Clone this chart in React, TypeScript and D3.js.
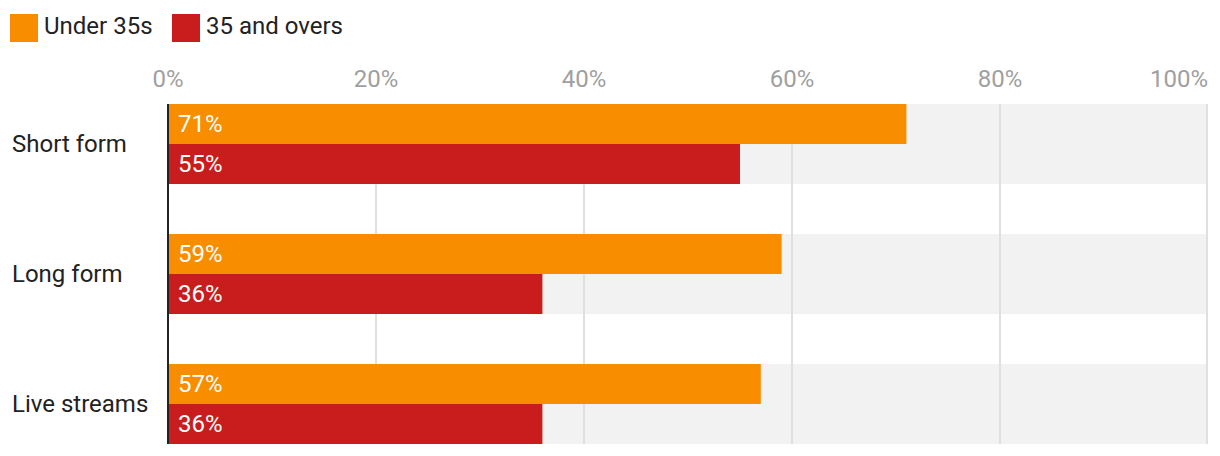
import React from "react";
import * as d3 from "d3";

const categories = ["Short form", "Long form", "Live streams"];
const seriesNames = ["Under 35s", "35 and overs"];
const under35 = [71, 59, 57];
const over35 = [55, 36, 36];
const ticks = [0, 20, 40, 60, 80, 100];
const colors = ["#f98d00", "#c91d1d"];

export default function App() {
  const W = 1220, H = 456;
  const x = d3.scaleLinear().domain([0, 100]).range([168, 1208]);
  const y = d3.scaleBand().domain(categories).range([104, 444]).paddingInner(50 / 130).paddingOuter(0);
  const sub = d3.scaleBand().domain(seriesNames).range([0, y.bandwidth()]);
  const series = [under35, over35];
  const font = "Roboto, 'Noto Sans', sans-serif";
  return (
    <div style={{ position: "absolute", left: 0, top: 0 }}>
      <svg width={W} height={H} style={{ display: "block", fontFamily: font }}>
        <rect width={W} height={H} fill="#fff" />
        {/* legend */}
        {seriesNames.map((s, i) => {
          const lx = [10, 172][i];
          return (
            <g key={s}>
              <rect x={lx} y={14} width={28} height={28} fill={colors[i]} />
              <text x={lx + 34} y={34} fontSize={24} fill="#222">{s}</text>
            </g>
          );
        })}
        {/* bands */}
        {categories.map((c) => (
          <rect key={c} x={x(0)} y={y(c)!} width={x(100) - x(0)} height={y.bandwidth()} fill="#f2f2f2" />
        ))}
        {/* grid */}
        {ticks.map((t) => (
          <line key={t} x1={x(t) - (t === 100 ? 1 : 0)} x2={x(t) - (t === 100 ? 1 : 0)} y1={104} y2={444} stroke="#e0e0e0" strokeWidth={2} />
        ))}
        {ticks.map((t, i) => (
          <text key={t} x={x(t)} y={87} fontSize={24} fill="#a0a0a0"
            textAnchor={i === ticks.length - 1 ? "end" : "middle"}>{t}%</text>
        ))}
        {/* bars */}
        {categories.map((c, ci) => (
          <g key={c}>
            {series.map((vals, si) => (
              <g key={si}>
                <rect x={x(0)} y={y(c)! + sub(seriesNames[si])!} width={x(vals[ci]) - x(0)} height={sub.bandwidth()} fill={colors[si]} />
                <text x={x(0) + 10} y={y(c)! + sub(seriesNames[si])! + sub.bandwidth() / 2 + 8} fontSize={24} fill="#fff">{vals[ci]}%</text>
              </g>
            ))}
            <text x={12} y={y(c)! + y.bandwidth() / 2 + 8} fontSize={24} fill="#222">{c}</text>
          </g>
        ))}
        <line x1={x(0)} x2={x(0)} y1={104} y2={444} stroke="#222" strokeWidth={2} />
      </svg>
    </div>
  );
}
